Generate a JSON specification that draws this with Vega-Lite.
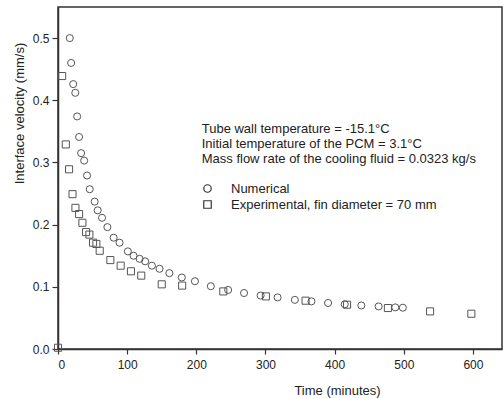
{
  "$schema": "https://vega.github.io/schema/vega-lite/v6.json",
  "width": 444,
  "height": 342,
  "autosize": {"type": "none"},
  "padding": {"left": 58, "top": 7, "right": 1, "bottom": 49},
  "background": "white",
  "config": {
    "font": "Liberation Sans",
    "view": {"stroke": "#333", "strokeWidth": 1.5},
    "axis": {
      "grid": false,
      "domainColor": "#333",
      "domainWidth": 1.5,
      "tickColor": "#333",
      "tickWidth": 1.2,
      "labelFont": "Liberation Sans",
      "labelFontSize": 12,
      "labelColor": "#222",
      "titleFont": "Liberation Sans",
      "titleFontSize": 13,
      "titleFontWeight": "normal",
      "titleColor": "#222"
    },
    "legend": {
      "labelFont": "Liberation Sans",
      "labelFontSize": 13,
      "labelColor": "#222",
      "labelLimit": 0
    }
  },
  "layer": [
    {
      "data": {
        "values": [
          {"time": 17, "velocity": 0.5, "series": "Numerical"},
          {"time": 19, "velocity": 0.46, "series": "Numerical"},
          {"time": 22, "velocity": 0.426, "series": "Numerical"},
          {"time": 25, "velocity": 0.412, "series": "Numerical"},
          {"time": 27.7, "velocity": 0.374, "series": "Numerical"},
          {"time": 30.5, "velocity": 0.341, "series": "Numerical"},
          {"time": 33.4, "velocity": 0.315, "series": "Numerical"},
          {"time": 37.8, "velocity": 0.303, "series": "Numerical"},
          {"time": 42, "velocity": 0.279, "series": "Numerical"},
          {"time": 45.9, "velocity": 0.257, "series": "Numerical"},
          {"time": 53, "velocity": 0.237, "series": "Numerical"},
          {"time": 57.4, "velocity": 0.223, "series": "Numerical"},
          {"time": 63.7, "velocity": 0.211, "series": "Numerical"},
          {"time": 71.4, "velocity": 0.196, "series": "Numerical"},
          {"time": 80.5, "velocity": 0.179, "series": "Numerical"},
          {"time": 89, "velocity": 0.171, "series": "Numerical"},
          {"time": 101, "velocity": 0.157, "series": "Numerical"},
          {"time": 109.3, "velocity": 0.15, "series": "Numerical"},
          {"time": 118, "velocity": 0.145, "series": "Numerical"},
          {"time": 126, "velocity": 0.141, "series": "Numerical"},
          {"time": 135.8, "velocity": 0.134, "series": "Numerical"},
          {"time": 146.8, "velocity": 0.129, "series": "Numerical"},
          {"time": 161, "velocity": 0.122, "series": "Numerical"},
          {"time": 179, "velocity": 0.115, "series": "Numerical"},
          {"time": 198, "velocity": 0.109, "series": "Numerical"},
          {"time": 221, "velocity": 0.101, "series": "Numerical"},
          {"time": 246, "velocity": 0.095, "series": "Numerical"},
          {"time": 269, "velocity": 0.09, "series": "Numerical"},
          {"time": 293, "velocity": 0.086, "series": "Numerical"},
          {"time": 317.5, "velocity": 0.083, "series": "Numerical"},
          {"time": 342.5, "velocity": 0.079, "series": "Numerical"},
          {"time": 366.5, "velocity": 0.0766, "series": "Numerical"},
          {"time": 390.5, "velocity": 0.074, "series": "Numerical"},
          {"time": 414.6, "velocity": 0.072, "series": "Numerical"},
          {"time": 438.6, "velocity": 0.07, "series": "Numerical"},
          {"time": 463.6, "velocity": 0.0685, "series": "Numerical"},
          {"time": 487.7, "velocity": 0.0669, "series": "Numerical"},
          {"time": 498.6, "velocity": 0.0664, "series": "Numerical"},
          {"time": 0, "velocity": 0.002, "series": "Experimental, fin diameter = 70 mm"},
          {"time": 6, "velocity": 0.439, "series": "Experimental, fin diameter = 70 mm"},
          {"time": 11.3, "velocity": 0.329, "series": "Experimental, fin diameter = 70 mm"},
          {"time": 16, "velocity": 0.289, "series": "Experimental, fin diameter = 70 mm"},
          {"time": 21, "velocity": 0.249, "series": "Experimental, fin diameter = 70 mm"},
          {"time": 25.2, "velocity": 0.227, "series": "Experimental, fin diameter = 70 mm"},
          {"time": 30.5, "velocity": 0.217, "series": "Experimental, fin diameter = 70 mm"},
          {"time": 35.3, "velocity": 0.203, "series": "Experimental, fin diameter = 70 mm"},
          {"time": 40.6, "velocity": 0.188, "series": "Experimental, fin diameter = 70 mm"},
          {"time": 45.4, "velocity": 0.184, "series": "Experimental, fin diameter = 70 mm"},
          {"time": 50.7, "velocity": 0.171, "series": "Experimental, fin diameter = 70 mm"},
          {"time": 55.5, "velocity": 0.169, "series": "Experimental, fin diameter = 70 mm"},
          {"time": 60.3, "velocity": 0.158, "series": "Experimental, fin diameter = 70 mm"},
          {"time": 75.7, "velocity": 0.143, "series": "Experimental, fin diameter = 70 mm"},
          {"time": 90.6, "velocity": 0.134, "series": "Experimental, fin diameter = 70 mm"},
          {"time": 105.5, "velocity": 0.125, "series": "Experimental, fin diameter = 70 mm"},
          {"time": 120.4, "velocity": 0.118, "series": "Experimental, fin diameter = 70 mm"},
          {"time": 150, "velocity": 0.104, "series": "Experimental, fin diameter = 70 mm"},
          {"time": 179.5, "velocity": 0.102, "series": "Experimental, fin diameter = 70 mm"},
          {"time": 239, "velocity": 0.0926, "series": "Experimental, fin diameter = 70 mm"},
          {"time": 300.6, "velocity": 0.0846, "series": "Experimental, fin diameter = 70 mm"},
          {"time": 358, "velocity": 0.0777, "series": "Experimental, fin diameter = 70 mm"},
          {"time": 418, "velocity": 0.0712, "series": "Experimental, fin diameter = 70 mm"},
          {"time": 477, "velocity": 0.0659, "series": "Experimental, fin diameter = 70 mm"},
          {"time": 538, "velocity": 0.0605, "series": "Experimental, fin diameter = 70 mm"},
          {"time": 597.7, "velocity": 0.0567, "series": "Experimental, fin diameter = 70 mm"}
        ]
      },
      "mark": {"type": "point", "filled": false, "size": 50, "strokeWidth": 1, "opacity": 1},
      "encoding": {
        "x": {
          "field": "time",
          "type": "quantitative",
          "scale": {"domain": [0, 642], "nice": false},
          "axis": {
            "title": "Time (minutes)",
            "values": [0, 50, 100, 150, 200, 250, 300, 350, 400, 450, 500, 550, 600],
            "labelExpr": "datum.value % 100 === 0 ? datum.label : ''",
            "tickSize": {"condition": {"test": "datum.value % 100 !== 0", "value": 3}, "value": 5},
            "labelPadding": 5,
            "titleX": 279,
            "titleY": 45,
            "titleBaseline": "alphabetic",
            "titleAnchor": "middle"
          }
        },
        "y": {
          "field": "velocity",
          "type": "quantitative",
          "scale": {"domain": [0, 0.55], "nice": false},
          "axis": {
            "title": "Interface velocity (mm/s)",
            "values": [0, 0.05, 0.1, 0.15, 0.2, 0.25, 0.3, 0.35, 0.4, 0.45, 0.5],
            "labelExpr": "round(datum.value * 100) % 10 === 0 ? format(datum.value, '.1f') : ''",
            "tickSize": {"condition": {"test": "round(datum.value * 100) % 10 !== 0", "value": 3}, "value": 6},
            "labelPadding": 3,
            "titleX": -35,
            "titleY": 106,
            "titleBaseline": "alphabetic",
            "titleAngle": -90
          }
        },
        "shape": {
          "field": "series",
          "type": "nominal",
          "scale": {
            "domain": ["Numerical", "Experimental, fin diameter = 70 mm"],
            "range": ["circle", "square"]
          },
          "legend": {
            "title": null,
            "orient": "none",
            "legendX": 143,
            "legendY": 175,
            "padding": 0,
            "labelOffset": 17,
            "labelLimit": 0,
            "rowPadding": 2,
            "symbolSize": 56,
            "symbolStrokeWidth": 1.2,
            "symbolStrokeColor": "#333"
          }
        },
        "color": {"value": "#555"}
      }
    },
    {
      "data": {
        "values": [
          {"note": "Tube wall temperature = -15.1°C\nInitial temperature of the PCM = 3.1°C\nMass flow rate of the cooling fluid = 0.0323 kg/s"}
        ]
      },
      "mark": {
        "type": "text",
        "align": "left",
        "baseline": "alphabetic",
        "lineBreak": "\n",
        "lineHeight": 15,
        "fontSize": 13,
        "font": "Liberation Sans",
        "color": "#222"
      },
      "encoding": {
        "text": {"field": "note"},
        "x": {"datum": 207.8},
        "y": {"datum": 0.347}
      }
    }
  ]
}
